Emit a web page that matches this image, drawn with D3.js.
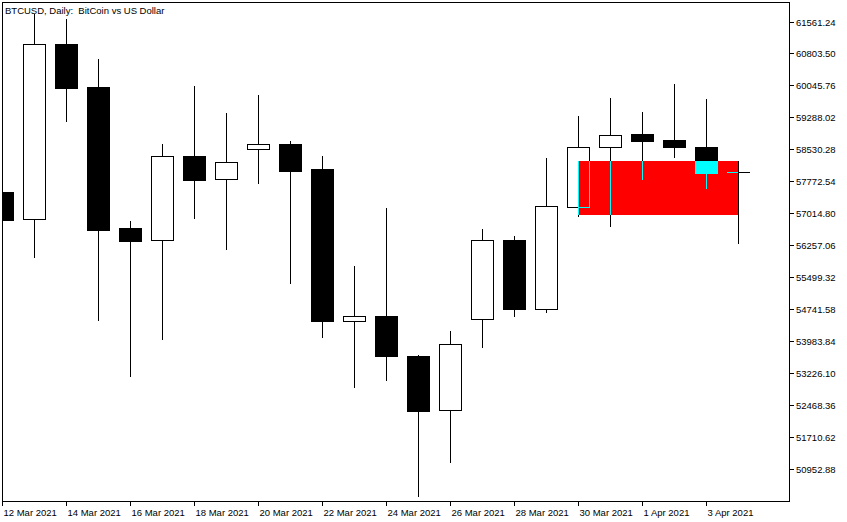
<!DOCTYPE html>
<html><head><meta charset="utf-8">
<script src="https://cdn.jsdelivr.net/npm/d3@7"></script>
<style>
html,body{margin:0;padding:0;background:#fff;}
svg{display:block;}
text{font-family:"Liberation Sans",Arial,sans-serif;font-size:9.5px;fill:#000;}
</style></head><body>
<svg id="chart" width="847" height="522"></svg>
<script>
const title = "BTCUSD, Daily:  BitCoin vs US Dollar";
const dates = ["2021-03-12","2021-03-13","2021-03-14","2021-03-15","2021-03-16","2021-03-17","2021-03-18","2021-03-19","2021-03-20","2021-03-21","2021-03-22","2021-03-23","2021-03-24","2021-03-25","2021-03-26","2021-03-27","2021-03-28","2021-03-29","2021-03-30","2021-03-31","2021-04-01","2021-04-02","2021-04-03","2021-04-04"];
const open  = [57514.8,56866.9,61027.2,60006.7,56660.4,56368.5,58369.2,57816.2,58547.2,58654.0,58060.7,54460.4,54572.0,53622.7,52348.2,54507.9,56375.6,54745.3,57165.9,58575.7,58891.3,58748.9,58582.8,57982.3];
const high  = [57800.0,61739.2,61620.6,60671.2,56826.6,58654.0,60030.5,59389.7,59816.9,58718.0,58369.2,55758.6,57135.1,53640.0,54216.0,56636.7,56470.6,58321.7,59318.5,59745.7,59413.4,60077.9,59721.9,58250.5];
const low   = [56613.0,55979.3,59206.9,54477.0,53148.0,54026.1,56904.9,56169.2,57735.5,55355.1,54080.7,52894.1,53060.3,50307.3,51114.2,53836.3,54572.0,54666.9,56952.3,56715.0,57823.3,58352.6,57616.9,56304.5];
const close = [56857.4,61020.1,59990.1,56620.1,56359.0,58369.2,57806.7,58219.7,58654.0,58013.2,54453.3,54564.9,53622.7,52324.5,53900.3,56368.5,54745.3,57175.4,58575.7,58860.4,58725.2,58589.9,57965.7,57982.3];
const yTicks = [61561.24,60803.50,60045.76,59288.02,58530.28,57772.54,57014.80,56257.06,55499.32,54741.58,53983.84,53226.10,52468.36,51710.62,50952.88];
const xTicks = ["2021-03-12","2021-03-14","2021-03-16","2021-03-18","2021-03-20","2021-03-22","2021-03-24","2021-03-26","2021-03-28","2021-03-30","2021-04-01","2021-04-03"];
const zoneStart = "2021-03-30", zoneEnd = "2021-04-04";
const zoneTop = 58250.5, zoneBottom = 56969.0;

const parse = d3.utcParse("%Y-%m-%d");
const data = dates.map((d,i)=>({date:parse(d),o:open[i],h:high[i],l:low[i],c:close[i]}));

const svg = d3.select("#chart");
const W = 847, H = 522;
const plot = {l:2, t:2, r:789, b:501};

const x = d3.scaleUtc().domain([parse("2021-03-12"), parse("2021-04-04")]).range([2, 738]).interpolate(d3.interpolateRound);
const y = d3.scaleLinear().domain([50952.88, 61561.24]).range([468.5, 21.5]);
const yr = v => Math.round(y(v));
const halfW = 11;

svg.append("rect").attr("width",W).attr("height",H).attr("fill","#fff");

const defs = svg.append("defs");
defs.append("clipPath").attr("id","plotClip").append("rect")
  .attr("x",plot.l).attr("y",plot.t).attr("width",plot.r-plot.l).attr("height",plot.b-plot.t);
const zx0 = x(parse(zoneStart)), zx1 = x(parse(zoneEnd));
const zy0 = yr(zoneTop), zy1 = yr(zoneBottom);
defs.append("clipPath").attr("id","zoneClip").append("rect")
  .attr("x",zx0).attr("y",zy0).attr("width",zx1-zx0).attr("height",zy1-zy0);

function drawCandles(g, dark, lightFill){
  const c = g.selectAll("g.c").data(data).join("g").attr("class","c");
  c.append("line")
    .attr("x1",d=>x(d.date)+0.5).attr("x2",d=>x(d.date)+0.5)
    .attr("y1",d=>yr(d.h)).attr("y2",d=>yr(d.l)+1)
    .attr("stroke",dark).attr("stroke-width",1);
  c.filter(d=>Math.abs(yr(d.o)-yr(d.c))>=1).append("rect")
    .attr("x",d=>x(d.date)-halfW+0.5)
    .attr("y",d=>Math.min(yr(d.o),yr(d.c))+0.5)
    .attr("width",halfW*2)
    .attr("height",d=>Math.abs(yr(d.o)-yr(d.c)))
    .attr("fill",d=>d.c>=d.o?lightFill:dark)
    .attr("stroke",dark).attr("stroke-width",1);
  c.filter(d=>Math.abs(yr(d.o)-yr(d.c))<1).append("line")
    .attr("x1",d=>x(d.date)-halfW).attr("x2",d=>x(d.date)+halfW+1)
    .attr("y1",d=>yr(d.o)+0.5).attr("y2",d=>yr(d.o)+0.5)
    .attr("stroke",dark).attr("stroke-width",1);
}

const pg = svg.append("g").attr("clip-path","url(#plotClip)");
drawCandles(pg.append("g"), "#000", "#fff");

// zone rectangle (background object, inverted drawing over it)
pg.append("rect").attr("x",zx0).attr("y",zy0).attr("width",zx1-zx0).attr("height",zy1-zy0).attr("fill","#ff0000");
drawCandles(pg.append("g").attr("clip-path","url(#zoneClip)"), "#00ffff", "none");

// frame
svg.append("rect").attr("x",plot.l+0.5).attr("y",plot.t+0.5)
  .attr("width",plot.r-plot.l).attr("height",plot.b-plot.t)
  .attr("fill","none").attr("stroke","#000").attr("stroke-width",1);

// title
svg.append("text").attr("x",5).attr("y",13.5).style("white-space","pre").text(title);

// right axis
const ya = svg.append("g").attr("transform",`translate(${plot.r+1},0)`)
  .call(d3.axisRight(y.copy().interpolate(d3.interpolateRound)).tickValues(yTicks).tickSize(4).tickPadding(2).tickFormat(d3.format(".2f")));
ya.select(".domain").remove();
ya.selectAll("text").attr("font-size",null).attr("font-family",null);
ya.attr("font-size",null).attr("font-family",null);

// bottom axis
const xa = svg.append("g").attr("transform",`translate(0,${plot.b+1})`)
  .call(d3.axisBottom(x).tickValues(xTicks.map(parse)).tickSize(4).tickPadding(3).tickFormat(d3.utcFormat("%-d %b %Y")));
xa.select(".domain").remove();
xa.attr("font-size",null).attr("font-family",null);
xa.selectAll("text").attr("text-anchor","start").attr("x",1);
</script>
</body></html>
